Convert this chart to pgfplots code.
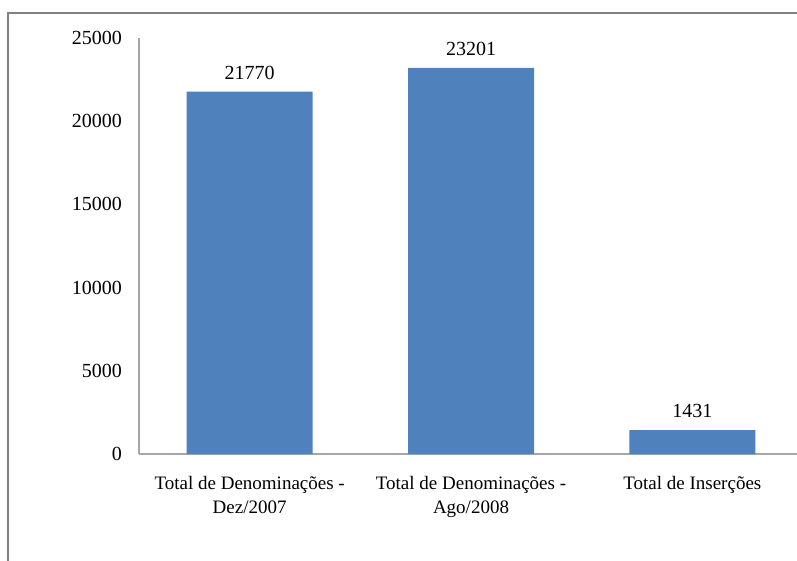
\documentclass[border=0pt]{standalone}
\usepackage{pgfplots}
\pgfplotsset{compat=1.18}
\usepackage{fontspec}
\setmainfont{Liberation Serif}
\definecolor{barblue}{HTML}{4F81BD}
\definecolor{axisgray}{HTML}{A6A6A6}
\definecolor{framegray}{HTML}{808080}
\begin{document}
\begin{tikzpicture}[x=1pt,y=1pt]
\useasboundingbox (0,0) rectangle (797,560);
% chart area frame (left and top edges only are visible)
\draw[framegray, line width=2pt] (8,-5) -- (8,547) -- (805,547);
\begin{axis}[
    at={(139pt,106pt)}, anchor=south west,
    scale only axis, width=664pt, height=416pt,
    ymin=0, ymax=25000,
    xmin=-0.5, xmax=2.5,
    axis x line=bottom, axis y line=left,
    axis line style={-, draw=axisgray, line width=1.2pt},
    ytick={0,5000,10000,15000,20000,25000},
    scaled y ticks=false,
    xtick=data,
    xticklabels={{Total de Denominações -\\Dez/2007},
                 {Total de Denominações -\\Ago/2008},
                 {Total de Inserções}},
    major tick length=0pt,
    /pgf/number format/assume math mode=true,
    /pgf/number format/1000 sep={},
    yticklabel style={font=\fontsize{20}{24}\selectfont,
        anchor=east, inner sep=0pt, xshift=-17pt},
    xticklabel style={font=\fontsize{19}{24}\selectfont,
        anchor=north, align=center, inner sep=0pt, yshift=-22pt},
    ybar, bar width=126pt,
    nodes near coords,
    every node near coord/.append style={font=\fontsize{20}{24}\selectfont,
        anchor=south, inner sep=0pt, yshift=12pt, text=black},
    clip=false,
]
\addplot[fill=barblue, draw=none] coordinates {
    (0,21770)
    (1,23201)
    (2,1431)
};
\end{axis}
\end{tikzpicture}
\end{document}
